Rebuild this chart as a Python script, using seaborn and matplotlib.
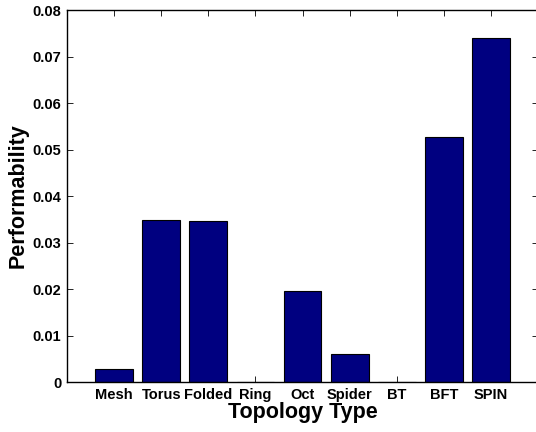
import matplotlib
matplotlib.use("Agg")
import matplotlib.pyplot as plt
import seaborn as sns
import pandas as pd

topologies = ["Mesh", "Torus", "Folded", "Ring", "Oct", "Spider", "BT", "BFT", "SPIN"]
performability = [0.0028, 0.0348, 0.0346, 0.0, 0.0195, 0.0060, 0.0, 0.0527, 0.0740]
yticks = [0, 0.01, 0.02, 0.03, 0.04, 0.05, 0.06, 0.07, 0.08]

sns.set_style("white")
plt.rcParams["font.family"] = ["Liberation Sans", "DejaVu Sans"]
plt.rcParams["font.weight"] = "bold"
plt.rcParams["text.color"] = "black"
plt.rcParams["axes.labelcolor"] = "black"
plt.rcParams["xtick.color"] = "black"
plt.rcParams["ytick.color"] = "black"

df = pd.DataFrame({"Topology": topologies, "Performability": performability})

fig = plt.figure(figsize=(5.36, 4.32), dpi=100)
ax = fig.add_axes([0.125, 0.1157, 0.879, 0.861])
sns.barplot(data=df, x="Topology", y="Performability", color="#000080",
            saturation=1, width=0.8, edgecolor="black", linewidth=0.8, ax=ax)

ax.set_xlim(-1, 9)
ax.set_ylim(0, 0.08)
ax.set_yticks(yticks)
ax.set_yticklabels(["0" if v == 0 else f"{v:.2f}" for v in yticks],
                   fontsize=10.5, fontweight="bold")
ax.set_xticks(range(len(topologies)))
ax.set_xticklabels(topologies, fontsize=10.5, fontweight="bold")
ax.set_xlabel("Topology Type", fontsize=15.5, fontweight="bold", labelpad=0.5)
ax.set_ylabel("Performability", fontsize=15.5, fontweight="bold", labelpad=3)

for s in ax.spines.values():
    s.set_visible(True)
    s.set_color("black")
    s.set_linewidth(1.0)
ax.tick_params(axis="both", direction="in", length=4, width=0.6,
               top=True, right=True, bottom=True, left=True)
ax.tick_params(axis="x", pad=4)
ax.tick_params(axis="y", pad=4)

fig.savefig("out.png", dpi=100)
